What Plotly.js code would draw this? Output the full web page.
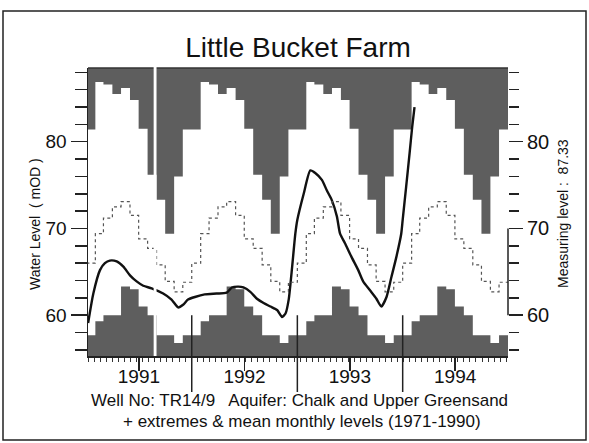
<!DOCTYPE html>
<html>
<head>
<meta charset="utf-8">
<script src="https://cdn.plot.ly/plotly-3.0.1.min.js"></script>
<style>html,body{margin:0;padding:0;background:#fff;}#chart{width:589px;height:443px;}</style>
</head>
<body>
<div id="chart"></div>
<script>
// ---- data ----
const years = [1991, 1992, 1993, 1994];
const yearLabels = ['1991', '1992', '1993', '1994'];
// monthly extremes & mean (1971-1990), Jan..Dec, mOD
const monthlyMax  = [81.4, 86.9, 86.6, 85.5, 86.2, 84.8, 81.5, 76.2, 73.3, 69.4, 76.0, 81.4];
const monthlyMean = [66.0, 69.4, 71.2, 72.5, 73.1, 71.5, 68.8, 67.7, 65.8, 63.9, 62.7, 63.8];
const monthlyMin  = [57.7, 59.3, 60.0, 60.0, 63.3, 63.0, 61.0, 60.0, 57.7, 57.7, 56.8, 57.7];
// observed water level
const levelDates = ['1991-01-07','1991-01-25','1991-02-17','1991-03-06','1991-03-23','1991-04-16','1991-05-09','1991-06-01','1991-06-24','1991-07-17','1991-08-15','1991-09-24','1991-10-23','1991-11-15','1991-12-02','1991-12-19',
 '1992-01-12','1992-02-15','1992-03-27','1992-05-01','1992-05-19','1992-06-11','1992-06-28','1992-07-22','1992-08-14','1992-09-06','1992-09-30','1992-10-23','1992-11-09','1992-11-21','1992-12-02','1992-12-14','1992-12-25',
 '1993-01-01','1993-01-23','1993-02-15','1993-03-04','1993-03-27','1993-04-13','1993-04-30','1993-05-18','1993-05-29','1993-06-15','1993-07-08','1993-07-31','1993-08-17','1993-09-09','1993-10-02','1993-10-19','1993-11-06','1993-11-23','1993-12-10','1993-12-27',
 '1994-01-01','1994-01-13','1994-01-25','1994-02-03','1994-02-11'];
const levelValues = [59.1,62.5,65.2,66.0,66.3,66.2,65.6,64.6,63.9,63.4,63.1,62.5,61.8,60.9,61.2,61.8,
 62.1,62.4,62.5,62.6,63.2,63.3,63.2,62.7,61.9,61.4,61.0,60.6,59.8,60.2,61.8,65.6,69.4,
 71.0,74.0,76.7,76.4,75.6,74.4,73.3,71.4,69.4,68.3,66.7,65.2,63.9,62.9,61.9,61.0,62.1,64.4,66.7,69.4,
 71.0,74.8,78.7,81.7,84.0];
const measuringLevel = '87.33';

// ---- layout constants ----
const W = 589, H = 443;
const M = {l: 88, r: 81, t: 68, b: 87};
const PW = W - M.l - M.r, PH = H - M.t - M.b;
const yRange = [55.3, 88.5];
const xRange = ['1991-01-06 12:00', '1995-01-01'];
const FONT = 'Liberation Sans, Arial, Helvetica, sans-serif';
const GREY = '#5e5e5e';
const px = v => (v - M.l) / PW;           // pixel x -> paper x
const py = v => (H - M.b - v) / PH;       // pixel y -> paper y
const yp = v => (v - yRange[0]) / (yRange[1] - yRange[0]); // value -> paper y

function pad(n){ return (n < 10 ? '0' : '') + n; }
function monthStart(y, m){ const yy = y + Math.floor(m / 12), mm = m % 12; return yy + '-' + pad(mm + 1) + '-01'; }

// step outlines built from the monthly arrays
const stepX = [], maxY = [], minY = [];
years.forEach(y => {
  for (let m = 0; m < 12; m++) {
    stepX.push(monthStart(y, m), monthStart(y, m + 1));
    maxY.push(monthlyMax[m], monthlyMax[m]);
    minY.push(monthlyMin[m], monthlyMin[m]);
  }
});
const x0 = monthStart(years[0], 0), x1 = monthStart(years[years.length - 1], 12);
const topPoly = {x: stepX.concat([x1, x0]), y: maxY.concat([yRange[1] + 2, yRange[1] + 2])};
const botPoly = {x: stepX.concat([x1, x0]), y: minY.concat([yRange[0] - 2, yRange[0] - 2])};

const meanX = [], meanY = [];
years.forEach(y => { for (let m = 0; m < 12; m++) { meanX.push(monthStart(y, m)); meanY.push(monthlyMean[m]); } });
meanX.push(x1); meanY.push(monthlyMean[11]);

const traces = [
  {x: topPoly.x, y: topPoly.y, type: 'scatter', mode: 'lines', fill: 'toself', fillcolor: GREY,
   line: {width: 0, color: GREY}, hoverinfo: 'skip', showlegend: false},
  {x: botPoly.x, y: botPoly.y, type: 'scatter', mode: 'lines', fill: 'toself', fillcolor: GREY,
   line: {width: 0, color: GREY}, hoverinfo: 'skip', showlegend: false},
  {x: meanX, y: meanY, type: 'scatter', mode: 'lines', yaxis: 'y2',
   line: {shape: 'hv', dash: 'dot', width: 1.2, color: '#555'}, showlegend: false},
  {x: levelDates, y: levelValues, type: 'scatter', mode: 'lines',
   line: {shape: 'spline', smoothing: 0.6, width: 2.4, color: '#111'}, showlegend: false}
];

const shapes = [];
// outer frame
shapes.push({type: 'rect', xref: 'paper', yref: 'paper', x0: px(3), x1: px(586), y0: py(440), y1: py(11),
  line: {color: '#222', width: 1.5}, fillcolor: 'rgba(0,0,0,0)'});
// top edge of plot
shapes.push({type: 'line', xref: 'paper', yref: 'paper', x0: 0, x1: 1, y0: 1, y1: 1, line: {color: '#333', width: 1.5}});
// year separators (through the lower band and down past the axis)
years.slice(1).forEach(y => {
  shapes.push({type: 'line', xref: 'x', yref: 'paper', x0: y + '-01-01', x1: y + '-01-01', y0: py(392), y1: yp(60),
    line: {color: '#222', width: 1.5}});
});
// right axis segment between 60 and 70
shapes.push({type: 'line', xref: 'paper', yref: 'y', x0: 1, x1: 1, y0: 60, y1: 70, line: {color: '#222', width: 1.5}});
// white scan seam
shapes.push({type: 'rect', xref: 'x', yref: 'paper', x0: '1991-08-22', x1: '1991-09-01', y0: 0, y1: 1.01,
  line: {width: 0}, fillcolor: '#fff'});

const annotations = [
  {text: 'Water Level  ( mOD )', xref: 'paper', yref: 'paper', x: px(35), y: py(224), textangle: -90,
   showarrow: false, font: {family: FONT, size: 14, color: '#111'}, xanchor: 'center', yanchor: 'middle'},
  {text: 'Measuring level :  ' + measuringLevel, xref: 'paper', yref: 'paper', x: px(563), y: py(214), textangle: -90,
   showarrow: false, font: {family: FONT, size: 14, color: '#111'}, xanchor: 'center', yanchor: 'middle'},
  {text: 'Well No: TR14/9   Aquifer: Chalk and Upper Greensand', xref: 'paper', yref: 'paper', x: px(299), y: py(400.5),
   showarrow: false, font: {family: FONT, size: 17, color: '#111'}, xanchor: 'center', yanchor: 'middle'},
  {text: '+ extremes &amp; mean monthly levels (1971-1990)', xref: 'paper', yref: 'paper', x: px(302), y: py(421),
   showarrow: false, font: {family: FONT, size: 17, color: '#111'}, xanchor: 'center', yanchor: 'middle'}
];

const layout = {
  width: W, height: H,
  margin: M,
  paper_bgcolor: '#fff', plot_bgcolor: '#fff',
  font: {family: FONT, color: '#111'},
  title: {text: 'Little Bucket Farm', font: {family: FONT, size: 28, color: '#111'},
          xref: 'paper', x: 0.5, yref: 'container', y: 1 - 47 / H, yanchor: 'middle'},
  showlegend: false,
  xaxis: {type: 'date', range: xRange, showgrid: false, zeroline: false,
          showline: true, linecolor: '#222', linewidth: 1.5,
          tickmode: 'array', tickvals: years.map(y => y + '-07-02'), ticktext: yearLabels,
          ticks: 'outside', ticklen: 13, tickwidth: 1.5, tickcolor: '#222', ticklabelstandoff: -10,
          tickfont: {family: FONT, size: 19, color: '#111'},
          minor: {ticks: 'outside', dtick: 21 * 86400000, tick0: '1991-01-07', ticklen: 4, tickwidth: 1, tickcolor: '#333', showgrid: false}},
  yaxis: {range: yRange, showgrid: false, zeroline: false, showline: true, linecolor: '#222', linewidth: 1.5,
          tick0: 0, dtick: 10, ticks: 'outside', ticklen: 16, tickwidth: 1.5, tickcolor: '#222',
          tickfont: {family: FONT, size: 19, color: '#111'},
          minor: {ticks: 'outside', tick0: 0, dtick: 2, ticklen: 12, tickwidth: 1.5, tickcolor: '#222', showgrid: false}},
  yaxis2: {range: yRange, overlaying: 'y', side: 'right', anchor: 'x', showgrid: false, zeroline: false, showline: false,
          tick0: 0, dtick: 10, ticks: 'outside', ticklen: 14, tickwidth: 1.5, tickcolor: '#222',
          tickfont: {family: FONT, size: 20, color: '#111'},
          minor: {ticks: 'outside', tick0: 0, dtick: 2, ticklen: 10, tickwidth: 1.5, tickcolor: '#222', showgrid: false}},
  shapes: shapes,
  annotations: annotations
};

Plotly.newPlot('chart', traces, layout, {displayModeBar: false, staticPlot: true});
</script>
</body>
</html>
